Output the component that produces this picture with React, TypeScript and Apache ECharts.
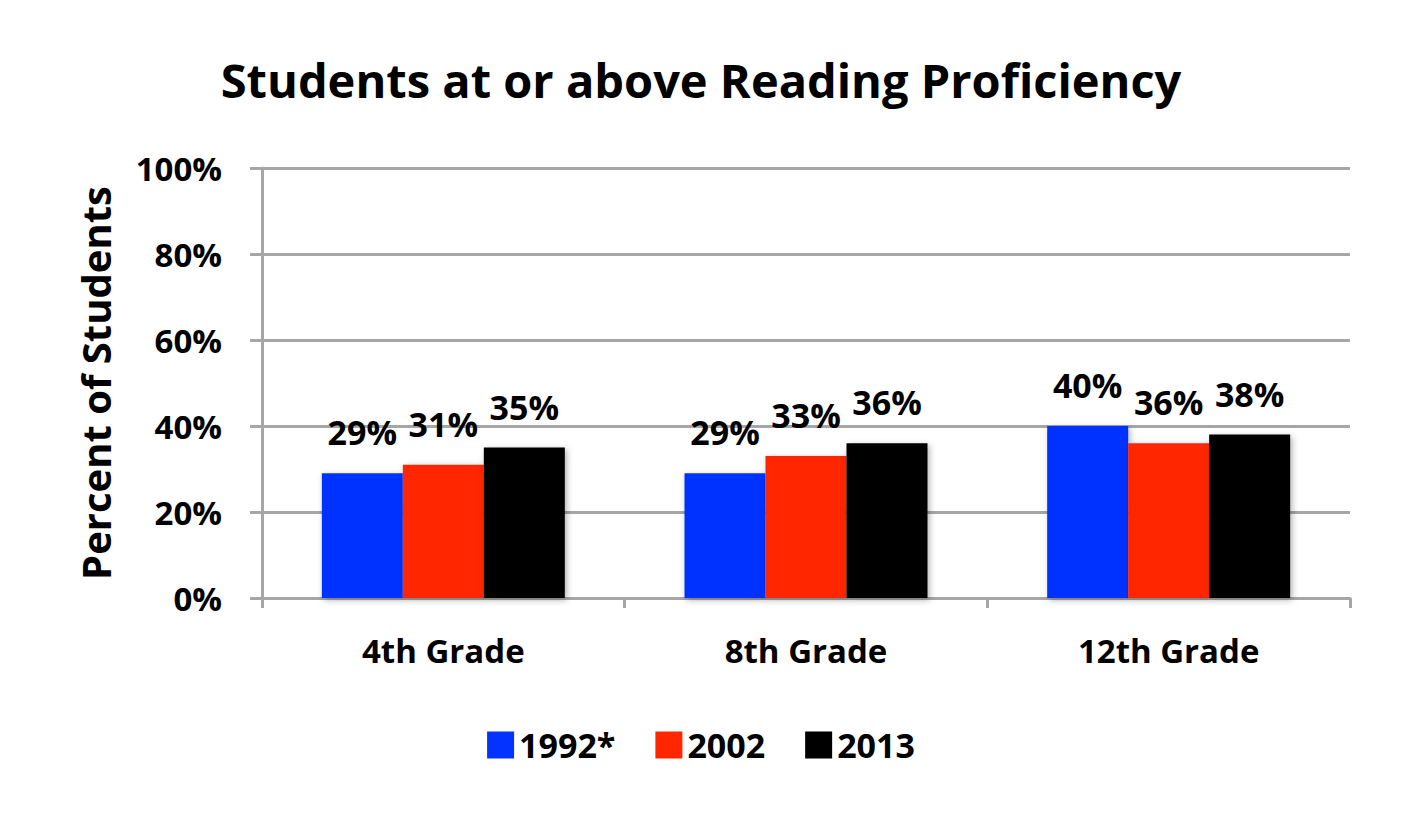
import React, { useEffect, useRef } from "react";
import * as echarts from "echarts";

const categories = ["4th Grade", "8th Grade", "12th Grade"];
const seriesNames = ["1992*", "2002", "2013"];
const values1992 = [29, 29, 40];
const values2002 = [31, 33, 36];
const values2013 = [35, 36, 38];
const colors = ["#0433FF", "#FF2600", "#000000"];
const yTicks = [0, 20, 40, 60, 80, 100];

const FONT = "'Open Sans', 'DejaVu Sans', sans-serif";

export default function App() {
  const ref = useRef<HTMLDivElement>(null);
  useEffect(() => {
    if (!ref.current) return;
    const chart = echarts.init(ref.current, null, { renderer: "svg" });
    const data = [values1992, values2002, values2013];
    chart.setOption({
      animation: false,
      backgroundColor: "#ffffff",
      title: {
        text: "Students at or above Reading Proficiency",
        left: "center",
        top: 43,
        textStyle: { fontFamily: FONT, fontWeight: "bold", fontSize: 47, color: "#000" },
      },
      legend: {
        data: seriesNames,
        left: "center",
        top: 715,
        itemWidth: 27,
        itemHeight: 27,
        itemGap: 40,
        icon: "rect",
        textStyle: { fontFamily: FONT, fontWeight: "bold", fontSize: 34, color: "#000", padding: [0, 0, 0, 0] },
      },
      grid: { left: 254, right: 44, top: 160, bottom: 209, containLabel: false },
      xAxis: {
        type: "category",
        data: categories,
        axisLine: { lineStyle: { color: "#A6A6A6", width: 3 } },
        axisTick: { show: true, length: 10, alignWithLabel: false, lineStyle: { color: "#A6A6A6", width: 3 } },
        axisLabel: { margin: 36, fontFamily: FONT, fontWeight: "bold", fontSize: 33, color: "#000" },
      },
      yAxis: {
        type: "value",
        min: 0,
        max: 100,
        interval: 20,
        name: "Percent of Students",
        nameLocation: "middle",
        nameGap: 147,
        nameRotate: 90,
        nameTextStyle: { fontFamily: FONT, fontWeight: "bold", fontSize: 40, color: "#000" },
        axisLine: { show: true, lineStyle: { color: "#A6A6A6", width: 3 } },
        axisTick: { show: true, length: 12, lineStyle: { color: "#A6A6A6", width: 3 } },
        splitLine: { show: true, lineStyle: { color: "#A6A6A6", width: 3 } },
        axisLabel: {
          margin: 40,
          fontFamily: FONT,
          fontWeight: "bold",
          fontSize: 33,
          color: "#000",
          formatter: (v: number) => (yTicks.includes(v) ? v + "%" : ""),
        },
      },
      series: seriesNames.map((name, i) => ({
        name,
        type: "bar",
        data: data[i],
        barGap: "0%",
        barCategoryGap: "33%",
        itemStyle: {
          color: colors[i],
          shadowBlur: 6,
          shadowColor: "rgba(0,0,0,0.3)",
          shadowOffsetX: 2,
          shadowOffsetY: 2,
        },
        label: {
          show: true,
          position: "top",
          distance: 24,
          formatter: "{c}%",
          fontFamily: FONT,
          fontWeight: "bold",
          fontSize: 34,
          color: "#000",
        },
      })),
    });
    return () => chart.dispose();
  }, []);
  return <div ref={ref} style={{ width: 1386, height: 799 }} />;
}
